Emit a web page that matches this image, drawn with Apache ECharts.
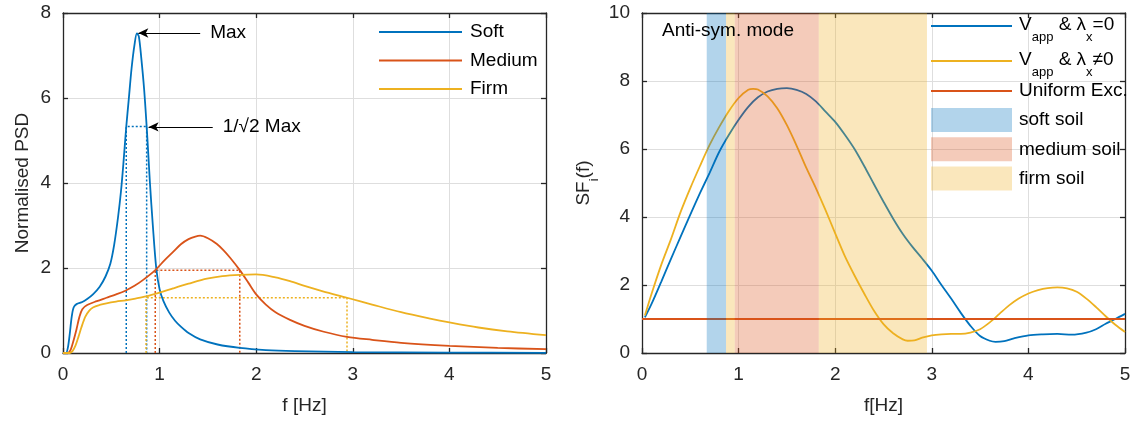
<!DOCTYPE html>
<html><head><meta charset="utf-8">
<script src="https://cdn.jsdelivr.net/npm/echarts@6/dist/echarts.min.js"></script>
<style>html,body{margin:0;padding:0;background:#fff}#c{width:1134px;height:423px}</style>
</head><body><div id="c"></div>
<script>
// ---------- data ----------
const FONT = '"Liberation Sans", Arial, Helvetica, sans-serif';
const xRange = [0, 5];
const xStep = 1;
const psdRange = [0, 8];
const psdStep = 2;
const sfRange = [0, 10];
const sfStep = 2;

const softPSD = [[0,0],[0.03,0],[0.05,0.12],[0.07,0.45],[0.09,0.85],[0.11,1.07],[0.14,1.15],[0.2,1.2],[0.25,1.27],[0.31,1.38],[0.38,1.56],[0.44,1.8],[0.49,2.1],[0.53,2.55],[0.57,3.2],[0.6,3.8],[0.625,4.45],[0.655,5.33],[0.68,5.95],[0.71,6.7],[0.74,7.25],[0.765,7.52],[0.785,7.45],[0.81,6.95],[0.84,6.2],[0.866,5.33],[0.885,4.6],[0.9,4.0],[0.93,3.0],[0.965,2.0],[1.0,1.5],[1.04,1.22],[1.1,0.95],[1.16,0.76],[1.22,0.62],[1.3,0.47],[1.42,0.32],[1.6,0.2],[1.83,0.12],[2.1,0.07],[2.4,0.045],[3,0.02],[4,0.01],[5,0.005]];
const mediumPSD = [[0,0],[0.05,0],[0.08,0.08],[0.11,0.3],[0.14,0.56],[0.17,0.85],[0.2,1.03],[0.25,1.13],[0.35,1.22],[0.45,1.3],[0.55,1.38],[0.64,1.46],[0.74,1.58],[0.83,1.72],[0.955,1.95],[1.05,2.18],[1.14,2.38],[1.22,2.56],[1.3,2.68],[1.37,2.74],[1.42,2.76],[1.5,2.7],[1.59,2.57],[1.66,2.42],[1.73,2.24],[1.83,1.95],[1.92,1.65],[2.0,1.38],[2.1,1.14],[2.2,0.96],[2.35,0.78],[2.5,0.64],[2.7,0.5],[2.94,0.38],[3.2,0.31],[3.5,0.24],[4,0.17],[4.5,0.12],[5,0.09]];
const firmPSD = [[0,0],[0.07,0],[0.1,0.05],[0.13,0.18],[0.16,0.38],[0.19,0.6],[0.23,0.85],[0.27,0.99],[0.31,1.07],[0.38,1.13],[0.45,1.17],[0.55,1.21],[0.65,1.24],[0.75,1.28],[0.86,1.33],[1.0,1.42],[1.14,1.52],[1.3,1.63],[1.49,1.75],[1.65,1.81],[1.83,1.84],[2.0,1.85],[2.2,1.78],[2.35,1.69],[2.5,1.58],[2.69,1.45],[2.94,1.3],[3.2,1.14],[3.5,0.96],[3.8,0.81],[4.0,0.72],[4.3,0.6],[4.6,0.51],[5,0.42]];

// half-power bandwidths: [f1, f2, level]
const softHP = [0.655, 0.866, 5.33];
const mediumHP = [0.955, 1.83, 1.95];
const firmHP = [0.86, 2.94, 1.3];

const annotations = [
  { text: 'Max', tail: [1.42, 7.53], tip: [0.78, 7.53] },
  { text: '1/\u221A2 Max', tail: [1.55, 5.32], tip: [0.886, 5.32] }
];

const sfLam0 = [[0.03,1.05],[0.1,1.45],[0.2,2.1],[0.3,2.77],[0.4,3.42],[0.5,4.07],[0.6,4.7],[0.7,5.3],[0.8,5.92],[0.9,6.42],[1.0,6.86],[1.1,7.24],[1.2,7.52],[1.3,7.69],[1.4,7.77],[1.5,7.79],[1.6,7.74],[1.7,7.62],[1.8,7.4],[1.9,7.1],[2.0,6.8],[2.1,6.42],[2.2,6.0],[2.3,5.5],[2.4,4.97],[2.5,4.45],[2.6,3.95],[2.7,3.5],[2.8,3.12],[2.9,2.78],[3.0,2.42],[3.1,2.0],[3.2,1.6],[3.3,1.18],[3.4,0.8],[3.5,0.5],[3.6,0.36],[3.66,0.33],[3.75,0.35],[3.85,0.43],[4.0,0.52],[4.15,0.55],[4.3,0.56],[4.45,0.54],[4.6,0.6],[4.7,0.7],[4.8,0.86],[4.9,1.0],[5.0,1.15]];
const sfLamN = [[0.03,1.1],[0.1,1.75],[0.2,2.6],[0.3,3.35],[0.4,4.15],[0.5,4.85],[0.6,5.5],[0.7,6.12],[0.8,6.65],[0.9,7.12],[1.0,7.5],[1.1,7.74],[1.15,7.77],[1.2,7.75],[1.3,7.55],[1.4,7.2],[1.5,6.7],[1.6,6.1],[1.7,5.45],[1.8,4.85],[1.9,4.2],[2.0,3.52],[2.1,2.85],[2.2,2.28],[2.3,1.75],[2.4,1.25],[2.5,0.85],[2.6,0.58],[2.7,0.4],[2.75,0.36],[2.82,0.37],[2.9,0.45],[3.0,0.52],[3.1,0.55],[3.2,0.56],[3.3,0.56],[3.4,0.6],[3.5,0.7],[3.6,0.9],[3.7,1.15],[3.8,1.4],[3.9,1.6],[4.0,1.75],[4.1,1.85],[4.2,1.91],[4.3,1.93],[4.4,1.9],[4.5,1.8],[4.6,1.6],[4.7,1.35],[4.8,1.08],[4.9,0.83],[5.0,0.62]];
const sfUniform = [[0,1],[5,1]];

const softBand = [0.67, 0.87];
const mediumBand = [0.96, 1.83];
const firmBand = [0.87, 2.95];

// ---------- styling ----------
const C_BLUE = '#0072BD', C_RED = '#D95319', C_YEL = '#EDB120';
const B_BLUE = 'rgba(0,114,189,0.3)', B_RED = 'rgba(217,83,25,0.3)', B_YEL = 'rgba(237,177,32,0.3)';
const AX = '#262626';

function mainX(gi, name) {
  return { type:'value', gridIndex:gi, min:xRange[0], max:xRange[1], interval:xStep, position:'bottom',
    name:name, nameLocation:'middle', nameGap:43,
    nameTextStyle:{ fontSize:19, color:AX, fontFamily:FONT },
    axisLine:{ show:true, onZero:false, lineStyle:{ color:AX, width:1.3 } },
    axisTick:{ show:true, inside:true, length:5, lineStyle:{ color:AX, width:1.3 } },
    axisLabel:{ fontSize:19, color:AX, fontFamily:FONT, margin:12 },
    splitLine:{ show:true, lineStyle:{ color:'#dedede', width:1 } } };
}
function topX(gi) {
  return { type:'value', gridIndex:gi, min:xRange[0], max:xRange[1], interval:xStep, position:'top',
    axisLine:{ show:true, onZero:false, lineStyle:{ color:AX, width:1.3 } },
    axisTick:{ show:true, inside:true, length:5, lineStyle:{ color:AX, width:1.3 } },
    axisLabel:{ show:false }, splitLine:{ show:false } };
}
function mainY(gi, range, step, name, gap, rich) {
  return { type:'value', gridIndex:gi, min:range[0], max:range[1], interval:step, position:'left',
    name:name, nameLocation:'middle', nameGap:gap,
    nameTextStyle:{ fontSize:19, color:AX, fontFamily:FONT, rich: rich },
    axisLine:{ show:true, onZero:false, lineStyle:{ color:AX, width:1.3 } },
    axisTick:{ show:true, inside:true, length:5, lineStyle:{ color:AX, width:1.3 } },
    axisLabel:{ fontSize:19, color:AX, fontFamily:FONT, margin:12 },
    splitLine:{ show:true, lineStyle:{ color:'#dedede', width:1 } } };
}
function rightY(gi, range, step) {
  return { type:'value', gridIndex:gi, min:range[0], max:range[1], interval:step, position:'right',
    axisLine:{ show:true, onZero:false, lineStyle:{ color:AX, width:1.3 } },
    axisTick:{ show:true, inside:true, length:5, lineStyle:{ color:AX, width:1.3 } },
    axisLabel:{ show:false }, splitLine:{ show:false } };
}

function curve(name, data, color, xi, yi, sm) {
  return { name:name, type:'line', xAxisIndex:xi, yAxisIndex:yi, data:data, symbol:'none', smooth:sm,
    color:color, itemStyle:{ color:color }, lineStyle:{ color:color, width:1.8 }, z:3 };
}
function hpLine(name, hp, color) {
  return { name:name, type:'line', xAxisIndex:0, yAxisIndex:0, symbol:'none', smooth:false,
    data:[[hp[0], 0], [hp[0], hp[2]], [hp[1], hp[2]], [hp[1], 0]],
    lineStyle:{ color:color, width:1.5, type:[2,2] }, z:2 };
}
function subtract(band, hole) {
  const out = [];
  if (hole[0] > band[0]) out.push([band[0], Math.min(hole[0], band[1])]);
  if (hole[1] < band[1]) out.push([Math.max(hole[1], band[0]), band[1]]);
  return out;
}
function bandSeries(name, pieces, color) {
  return { name:name, type:'custom', xAxisIndex:2, yAxisIndex:2, z:6, clip:true,
    itemStyle:{ color:color }, color:color,
    data: pieces,
    encode:{ x:[0,1] },
    renderItem: function (params, api) {
      const p1 = api.coord([api.value(0), sfRange[1]]);
      const p2 = api.coord([api.value(1), sfRange[0]]);
      return { type:'rect', shape:{ x:p1[0], y:p1[1], width:p2[0]-p1[0], height:p2[1]-p1[1] },
        style:{ fill:color }, silent:true };
    } };
}

const legText = { fontSize:19, color:'#000', fontFamily:FONT, lineHeight:22 };
const richLeg = {
  m:{ fontSize:19, lineHeight:22, verticalAlign:'top', color:'#000', fontFamily:FONT },
  s:{ fontSize:13, lineHeight:13, padding:[16,0,0,0], verticalAlign:'top', color:'#000', fontFamily:FONT }
};
const legendNames = {
  lam0: '{m|V}{s|app}{m| & \u03BB}{s|x}{m|=0}',
  lamN: '{m|V}{s|app}{m| & \u03BB}{s|x}{m|\u22600}'
};

const chart = echarts.init(document.getElementById('c'), null, { renderer:'canvas' });
const option = {
  animation:false,
  backgroundColor:'#fff',
  grid:[
    { left:63, top:13, width:483, height:340, containLabel:false },
    { left:642, top:13, width:483, height:340, containLabel:false }
  ],
  xAxis:[ mainX(0, 'f [Hz]'), topX(0), mainX(1, 'f[Hz]'), topX(1) ],
  yAxis:[
    mainY(0, psdRange, psdStep, 'Normalised PSD', 31),
    rightY(0, psdRange, psdStep),
    mainY(1, sfRange, sfStep, '{m|SF}{s|i}{m|(f)}', 46, {
      m:{ fontSize:19, lineHeight:22, verticalAlign:'top', color:AX, fontFamily:FONT },
      s:{ fontSize:13, lineHeight:13, padding:[14,0,0,0], verticalAlign:'top', color:AX, fontFamily:FONT } }),
    rightY(1, sfRange, sfStep)
  ],
  legend:[
    { data:['Soft','Medium','Firm'], orient:'vertical', left:379, top:21, itemWidth:83, itemHeight:2, itemGap:6.5,
      icon:'rect', padding:0, selectedMode:false, textStyle:Object.assign({ padding:[0,0,0,3] }, legText) },
    { data:['lam0'], left:931, top:15, itemWidth:81, itemHeight:2, icon:'rect', padding:0, selectedMode:false,
      formatter:n => legendNames[n], textStyle:{ rich:richLeg, padding:[0,0,0,2] } },
    { data:['lamN'], left:931, top:50, itemWidth:81, itemHeight:2, icon:'rect', padding:0, selectedMode:false,
      formatter:n => legendNames[n], textStyle:{ rich:richLeg, padding:[0,0,0,2] } },
    { data:['Uniform Exc.'], left:931, top:80, itemWidth:81, itemHeight:2, icon:'rect', padding:0, selectedMode:false,
      textStyle:Object.assign({ padding:[0,0,0,2] }, legText) },
    { data:['soft soil','medium soil','firm soil'], orient:'vertical', left:931, top:108, itemWidth:81, itemHeight:24, itemGap:5.3,
      icon:'rect', padding:0, selectedMode:false, textStyle:Object.assign({ padding:[0,0,0,2] }, legText) }
  ],
  graphic:[
    { type:'text', left:662, top:21, z:100, zlevel:0, style:{ text:'Anti-sym. mode', fontSize:19, fill:'#000', fontFamily:FONT } }
  ],
  series:[
    hpLine('hpSoft', softHP, C_BLUE),
    hpLine('hpMedium', mediumHP, C_RED),
    hpLine('hpFirm', firmHP, C_YEL),
    Object.assign(curve('Soft', softPSD, C_BLUE, 0, 0, 0.3), {
      markLine:{ silent:true, symbol:['none','arrow'], symbolSize:[7,10], precision:3,
        lineStyle:{ color:'#000', width:1, type:'solid' },
        label:{ show:true, position:'start', distance:10, fontSize:19, color:'#000', fontFamily:FONT },
        emphasis:{ disabled:true },
        data: annotations.map(a => [ { coord:a.tail, label:{ formatter:a.text } }, { coord:a.tip } ]) } }),
    curve('Medium', mediumPSD, C_RED, 0, 0, 0.3),
    curve('Firm', firmPSD, C_YEL, 0, 0, 0.3),
    curve('lam0', sfLam0, C_BLUE, 2, 2, 0.3),
    curve('lamN', sfLamN, C_YEL, 2, 2, 0.3),
    curve('Uniform Exc.', sfUniform, C_RED, 2, 2, false),
    bandSeries('soft soil', [softBand], B_BLUE),
    bandSeries('medium soil', [mediumBand], B_RED),
    bandSeries('firm soil', subtract(firmBand, mediumBand), B_YEL)
  ]
};
chart.setOption(option);
</script>
</body></html>
